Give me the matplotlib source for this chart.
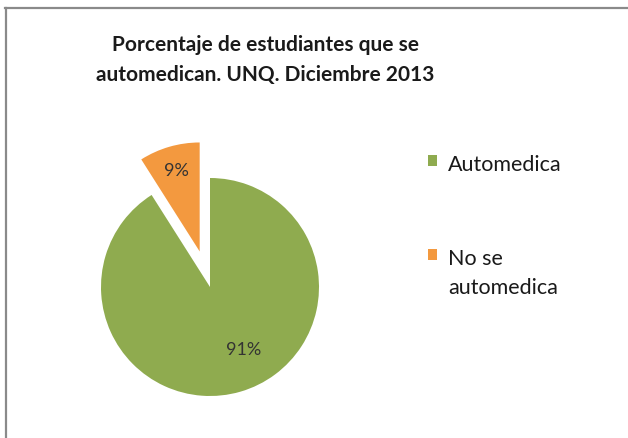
import matplotlib
matplotlib.use("Agg")
import matplotlib.pyplot as plt
import numpy as np
from matplotlib.patches import Patch
from matplotlib.lines import Line2D

title = "Porcentaje de estudiantes que se\nautomedican. UNQ. Diciembre 2013"
categories = ["Automedica", "No se\nautomedica"]
values = [91, 9]
colors = ["#8fab4f", "#f3993f"]

plt.rcParams['font.family'] = ['Lato', 'DejaVu Sans']

W, H = 628, 438
fig = plt.figure(figsize=(W / 100, H / 100), dpi=100)
ax = fig.add_axes([0, 0, 1, 1])
ax.set_xlim(0, W)
ax.set_ylim(0, H)

cx, cy, r = 210, H - 287, 109
wedges, texts, autotexts = ax.pie(
    values, colors=colors, startangle=90, counterclock=False,
    explode=[0, 37], center=(cx, cy), radius=r, frame=True,
    autopct=lambda p: f"{p:.0f}%", pctdistance=0.68,
    textprops=dict(fontsize=13, color="#333333"),
    wedgeprops=dict(linewidth=0))
ax.set_xlim(0, W)
ax.set_ylim(0, H)
ax.set_aspect('auto')
ax.axis('off')

# adjust label placement for each slice
for w, t, d, da in zip(wedges, autotexts, [0.66, 0.77], [12, 0]):
    ang = np.deg2rad((w.theta1 + w.theta2) / 2 + da)
    ccx, ccy = w.center
    t.set_position((ccx + d * r * np.cos(ang), ccy + d * r * np.sin(ang)))

fig.text(265 / W, 1 - 60 / H, title, ha='center', va='center',
         fontsize=15, fontweight='bold', color='#1a1a1a', linespacing=1.6)

handles = [Patch(facecolor=c, edgecolor='none') for c in colors]
leg = fig.legend(handles, categories, loc='upper left',
                 bbox_to_anchor=(419 / W, 1 - 146 / H), frameon=False,
                 fontsize=15.5, handlelength=0.45, handleheight=0.45,
                 handletextpad=0.5, labelspacing=3.45, borderaxespad=0)
for t in leg.get_texts():
    t.set_color('#1a1a1a')
    t.set_linespacing(1.6)
# align markers with the first line of each label
for col in leg._legend_handle_box.get_children():
    for item in col.get_children():
        item.align = 'top'
        da = item.get_children()[0]
        da.set_offset((0, -6))

# border lines (top and left)
fig.add_artist(Line2D([5 / W, 1], [1 - 7.5 / H, 1 - 7.5 / H],
                      transform=fig.transFigure, color='#8a8a8a', lw=1.6))
fig.add_artist(Line2D([5.5 / W, 5.5 / W], [0, 1 - 7.5 / H],
                      transform=fig.transFigure, color='#8a8a8a', lw=1.6))

fig.savefig("out.png", dpi=100, facecolor='white')
